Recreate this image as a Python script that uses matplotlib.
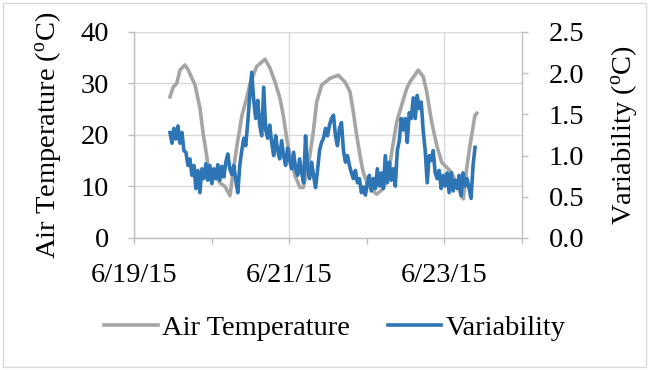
import numpy as np
import pandas as pd
import matplotlib
matplotlib.use("Agg")
import matplotlib.pyplot as plt
import matplotlib.dates as mdates
from matplotlib.patches import Rectangle

# air temperature, hours after 6/19/15 00:00
temp_hours = [11.13, 12.15, 13.21, 14.23, 15.77, 16.79, 18.87, 20.41, 21.34, 22.48,
              22.89, 24.74, 26.60, 28.14, 29.69, 30.62, 31.86, 33.40, 34.95, 35.88,
              37.95, 40.52, 42.06, 43.61, 45.15, 46.18, 47.23, 48.25, 49.79, 51.34,
              52.36, 53.91, 55.45, 56.51, 58.05, 60.62, 63.19, 65.26, 66.80, 67.82,
              68.88, 69.90, 70.92, 72.46, 75.06, 77.10, 78.65, 79.70, 81.25, 82.79,
              84.34, 85.36, 87.93, 89.47, 90.53, 92.07, 93.62, 95.17, 96.71, 98.26,
              100.30, 101.85, 102.90, 103.92, 105.46, 105.99]
temp_vals = [27.4, 29.3, 30.0, 32.6, 33.6, 32.6, 29.7, 25.2, 20.5, 16.0,
             14.0, 12.5, 10.7, 10.0, 8.2, 12.7, 18.0, 23.8, 27.4, 30.0,
             33.3, 34.7, 33.0, 30.3, 27.1, 23.8, 19.3, 16.0, 12.1, 9.8,
             9.8, 14.0, 20.6, 26.4, 29.7, 31.0, 31.6, 30.3, 28.4, 24.5,
             19.9, 16.0, 12.7, 10.1, 8.5, 9.6, 12.1, 16.6, 22.5, 25.8,
             29.0, 30.3, 32.6, 31.3, 28.4, 22.5, 18.0, 14.7, 13.7, 12.7,
             9.6, 7.6, 13.5, 18.0, 23.8, 24.2]

# variability, regular samples
var_start = "2015-06-19 11:08"
var_step = "37min"
var_vals = [1.28, 1.15, 1.33, 1.20, 1.36, 1.15, 1.28, 1.06, 1.04, 0.88,
            0.96, 0.76, 0.88, 0.60, 0.82, 0.55, 0.84, 0.72, 0.90, 0.70,
            0.88, 0.66, 0.84, 0.72, 0.89, 0.70, 0.87, 0.74, 0.92, 1.02,
            0.84, 0.77, 0.88, 0.70, 0.55, 0.88, 1.06, 1.21, 1.12, 1.40,
            1.73, 2.01,
            1.67, 1.45, 1.67, 1.37, 1.24, 1.83, 1.31, 1.21, 1.37, 1.16,
            1.00, 1.24, 1.06, 0.96, 1.18, 1.00, 0.88, 1.09, 0.94, 0.84,
            1.04, 0.84, 0.76, 0.96, 0.79, 0.67, 1.24, 0.84, 0.72, 0.92,
            0.76, 0.61, 0.82, 1.06, 1.16, 1.21, 1.33, 1.24, 1.37, 1.45,
            1.49, 1.24, 1.12, 1.33, 1.40, 1.06, 0.92, 1.00, 0.88, 0.79,
            0.72, 0.82, 0.67, 0.72, 0.55, 0.62, 0.52, 0.67, 0.76, 0.57,
            0.72, 0.60, 0.84, 0.63, 0.79, 0.60, 1.00, 0.67, 0.92, 0.70,
            0.84, 0.63, 1.06, 1.18, 1.45, 1.31, 1.45, 1.16, 1.52, 1.45,
            1.70, 1.45, 1.73, 1.57, 1.65, 1.30, 1.06, 0.67, 1.00, 0.94,
            1.06, 0.79, 0.72, 0.82, 0.60, 0.76, 0.63, 0.79, 0.55, 0.79,
            0.57, 0.70, 0.60, 0.76, 0.51, 0.79, 0.63, 0.72, 0.60, 0.48,
            0.88, 1.10]

x_start = "2015-06-19"
x_end = "2015-06-24"
temp_ticks = [0, 10, 20, 30, 40]
var_ticks = [0.0, 0.5, 1.0, 1.5, 2.0, 2.5]

plt.rcParams["font.family"] = ["Liberation Serif", "DejaVu Serif"]
plt.rcParams["font.size"] = 20.5
plt.rcParams["mathtext.fontset"] = "custom"
plt.rcParams["mathtext.rm"] = "Liberation Serif"

grid_c = "#D9D9D9"
axis_c = "#BFBFBF"
gray = "#A5A5A5"
blue = "#2E75B6"

t_temp = pd.Timestamp(x_start) + pd.to_timedelta(temp_hours, unit="h")
t_var = pd.date_range(var_start, periods=len(var_vals), freq=var_step)

fig = plt.figure(figsize=(6.52, 3.70), dpi=100)
ax = fig.add_axes([0.2055, 0.3568, 0.5951, 0.5568])
ax2 = ax.twinx()

l1, = ax.plot(t_temp, temp_vals, color=gray, lw=2.6, label="Air Temperature")
l2, = ax2.plot(t_var, var_vals, color=blue, lw=2.6, label="Variability")

ax.set_xlim(pd.Timestamp(x_start), pd.Timestamp(x_end))
ax.set_ylim(0, 40)
ax.set_yticks(temp_ticks)
ax2.set_ylim(0, 2.5)
ax2.set_yticks(var_ticks)
ax2.yaxis.set_major_formatter(plt.FuncFormatter(lambda v, p: f"{v:.1f}"))

ax.xaxis.set_major_locator(mdates.DayLocator(bymonthday=range(1, 32, 2)))
ax.xaxis.set_minor_locator(mdates.DayLocator())
ax.xaxis.set_major_formatter(plt.FuncFormatter(
    lambda v, p: "{d.month}/{d.day}/{d:%y}".format(d=mdates.num2date(v))))

ax.grid(True, which="major", color=grid_c, lw=1.0)
ax.set_axisbelow(True)

for a in (ax, ax2):
    for s in a.spines.values():
        s.set_color(axis_c)
        s.set_linewidth(1.0)
    a.spines["top"].set_visible(False)
ax.spines["right"].set_visible(False)
ax2.spines["left"].set_visible(False)
ax2.spines["bottom"].set_visible(False)

ax.tick_params(axis="both", which="both", color=axis_c, length=4, width=1.0,
               direction="out", pad=14)
ax2.tick_params(axis="y", color=axis_c, length=4, width=1.0, direction="out", pad=15)

ax.set_ylabel("Air Temperature ($\\mathregular{^o}$C)")
ax2.set_ylabel("Variability ($\\mathregular{^o}$C)")
ax.yaxis.set_label_coords(-0.183, 0.5)
ax2.yaxis.set_label_coords(1.224, 0.5)

fig.legend(handles=[l1, l2], loc="center", bbox_to_anchor=(0.514, 0.113), ncol=2,
           frameon=False, handlelength=1.87, handletextpad=0.17, columnspacing=1.32)

fig.patches.append(Rectangle((0.0046, 0.008), 0.986, 0.984, transform=fig.transFigure,
                             fill=False, edgecolor=grid_c, lw=1.0))

fig.savefig("out.png", dpi=100)
